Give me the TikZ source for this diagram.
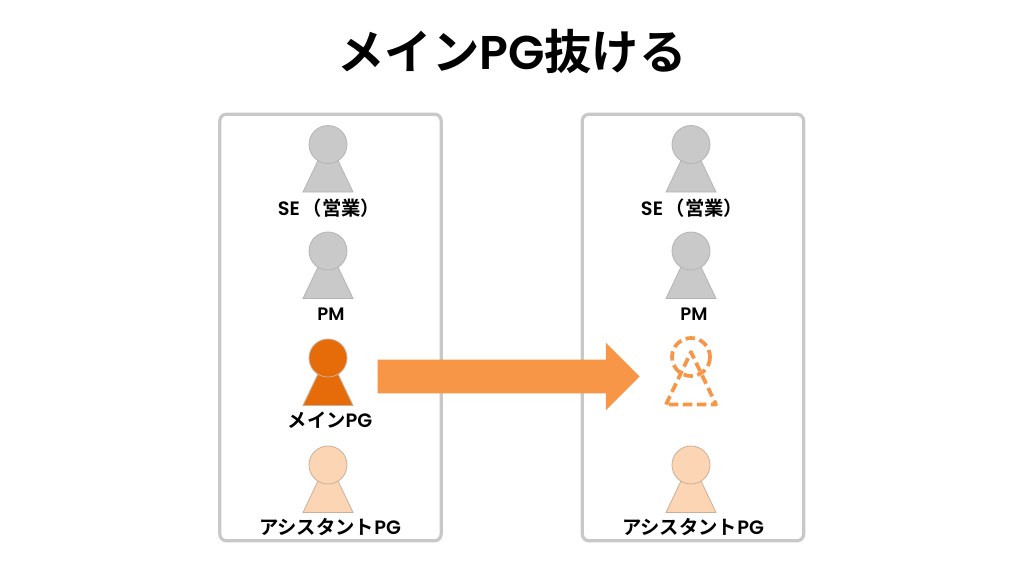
\documentclass[tikz,border=0pt]{standalone}
\usepackage{fontspec}
\setmainfont{Poppins}[BoldFont=Poppins SemiBold]
\newfontfamily\cjk{Noto Sans CJK JP}[BoldFont=Noto Sans CJK JP Bold]
\usetikzlibrary{shapes.geometric, shapes.arrows, positioning}
\definecolor{panelgray}{RGB}{200,200,200}
\definecolor{persongray}{RGB}{201,201,201}
\definecolor{persongrayline}{RGB}{180,180,180}
\definecolor{mainorange}{RGB}{230,108,10}
\definecolor{lightorange}{RGB}{252,213,181}
\definecolor{lightline}{RGB}{205,175,150}
\definecolor{arroworange}{RGB}{247,150,70}
\newcommand{\person}[3]{% x, head y, style
  \path[#3] (#1-25,#2+47.5) -- (#1,#2-5) -- (#1+25,#2+47.5) -- cycle;
  \path[#3] (#1,#2) circle (19);
}
\begin{document}
\begin{tikzpicture}[
        x=0.75pt, y=-0.75pt,
        panel/.style={rectangle, draw=panelgray, line width=2.4pt, fill=white, rounded corners=5pt, minimum width=166pt, minimum height=320pt, inner sep=0pt},
        label/.style={font=\bfseries\fontsize{14.5}{16}\selectfont, text=black, inner sep=0pt},
        gray person/.style={fill=persongray, draw=persongrayline, line width=0.6pt},
        main person/.style={fill=mainorange, draw=lightline, line width=0.6pt},
        assist person/.style={fill=lightorange, draw=lightline, line width=0.6pt},
        gone person/.style={draw=arroworange, line width=2.8pt, line join=round, dash pattern=on 7pt off 3.5pt}
    ]
        \useasboundingbox (0,0) rectangle (1024,576);
        \node[font=\bfseries\fontsize{35.5}{40}\selectfont] (title) at (512,52) {{\cjk メイン}PG{\cjk 抜ける}};

        \node[panel] (leftpanel) at (330.5,327.5) {};
        \node[panel] (rightpanel) at (693,327.5) {};

        % left column
        \person{328}{144.5}{gray person}
        \person{328}{251}{gray person}
        \person{328}{358}{main person}
        \person{328}{465}{assist person}
        % right column
        \person{691}{144.5}{gray person}
        \person{691}{251}{gray person}
        \person{691}{357}{gone person}
        \person{691}{465}{assist person}

        \foreach \x/\col in {330/l, 693/r} {
            \node[label] (se\col) at (\x-1,208) {SE\hspace{2pt}{\cjk （営業）}};
            \node[label, font=\bfseries\fontsize{13.5}{16}\selectfont] (pm\col) at (\x+1,314) {PM};
            \node[label] (assist\col) at (\x,527) {{\cjk アシスタント}PG};
        }
        \node[label] (mainpg) at (330,420) {{\cjk メイン}PG};

        \node[single arrow, fill=arroworange, inner xsep=0pt, inner ysep=12.4pt, minimum height=196.5pt, single arrow head extend=12.75pt, single arrow tip angle=90, anchor=tip] (move) at (640,376.5) {};
    \end{tikzpicture}
\end{document}
